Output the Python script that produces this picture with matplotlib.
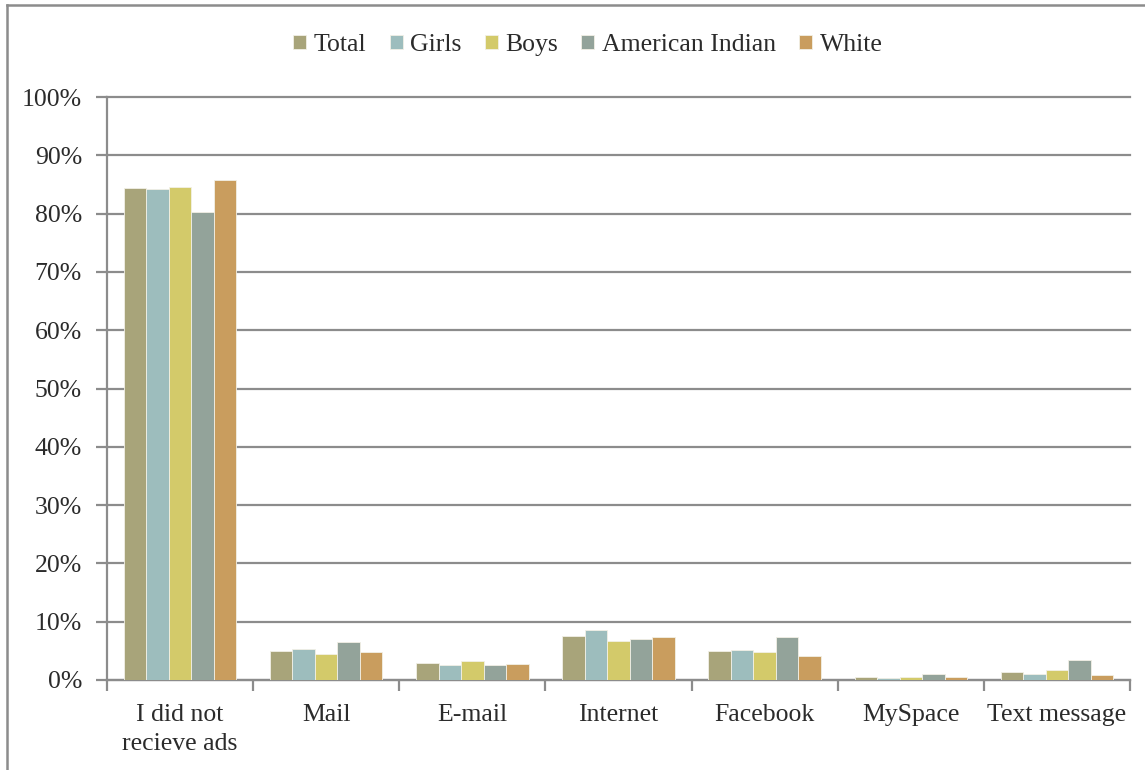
import matplotlib.pyplot as plt
import numpy as np
from matplotlib.ticker import PercentFormatter, FixedLocator
from matplotlib.lines import Line2D

categories = ["I did not\nrecieve ads", "Mail", "E-mail", "Internet",
              "Facebook", "MySpace", "Text message"]
series_names = ["Total", "Girls", "Boys", "American Indian", "White"]
total = [84.4, 4.9, 2.9, 7.6, 4.9, 0.5, 1.4]
girls = [84.2, 5.3, 2.5, 8.5, 5.2, 0.4, 1.0]
boys = [84.5, 4.5, 3.2, 6.7, 4.8, 0.5, 1.7]
american_indian = [80.3, 6.5, 2.5, 7.1, 7.3, 1.0, 3.4]
white = [85.7, 4.8, 2.8, 7.4, 4.2, 0.5, 0.9]
series_values = [total, girls, boys, american_indian, white]
colors = ["#A8A47A", "#9DBDBD", "#D3CA6A", "#93A39A", "#C99D5E"]

plt.rcParams['font.family'] = ['Liberation Serif', 'DejaVu Serif']
text_color = "#2b2b2b"
line_color = "#8c8c8c"

fig = plt.figure(figsize=(11.45, 7.7), dpi=100)
ax = fig.add_axes([107 / 1145, 1 - 680 / 770, (1130 - 107) / 1145, (680 - 97) / 770])

x = np.arange(len(categories))
bar_w = 0.154
offsets = (np.arange(len(series_names)) - 2) * bar_w
for name, vals, col, off in zip(series_names, series_values, colors, offsets):
    ax.bar(x + off, vals, width=bar_w, color=col, edgecolor="#f2f0e6",
           linewidth=0.6, label=name, zorder=3)

ax.set_xlim(-0.5, len(categories) - 0.5)
ax.set_ylim(0, 100)
ax.set_yticks(np.arange(0, 101, 10))
ax.yaxis.set_major_formatter(PercentFormatter(decimals=0))
ax.grid(axis='y', color=line_color, linewidth=1.6, zorder=0)
for gl in ax.get_ygridlines():
    gl.set_clip_on(False)

ax.set_xticks(x)
ax.set_xticklabels(categories, linespacing=1.45)
ax.xaxis.set_minor_locator(FixedLocator(np.arange(-0.5, len(categories), 1)))
ax.tick_params(axis='x', which='major', length=0, pad=17, labelsize=18.5, labelcolor=text_color)
ax.tick_params(axis='x', which='minor', length=8, width=1.6, color=line_color, direction='out')
ax.tick_params(axis='y', length=8, width=1.6, color=line_color, pad=10,
               labelsize=18.5, labelcolor=text_color)

for side in ['top', 'right']:
    ax.spines[side].set_visible(False)
for side in ['left', 'bottom']:
    ax.spines[side].set_color(line_color)
    ax.spines[side].set_linewidth(1.6)

leg = fig.legend(loc='center', bbox_to_anchor=(588 / 1145, 1 - 45 / 770), ncol=5,
                 frameon=False, fontsize=18.5, handlelength=0.5, handleheight=0.5,
                 handletextpad=0.3, columnspacing=0.9)
for t in leg.get_texts():
    t.set_color(text_color)

# outer frame (left and top edges visible)
fig.add_artist(Line2D([7 / 1145, 7 / 1145], [0, 1 - 5 / 770], transform=fig.transFigure,
                      color=line_color, linewidth=1.8))
fig.add_artist(Line2D([7 / 1145, 1], [1 - 5 / 770, 1 - 5 / 770], transform=fig.transFigure,
                      color=line_color, linewidth=1.8))

fig.savefig("out.png", dpi=100)
